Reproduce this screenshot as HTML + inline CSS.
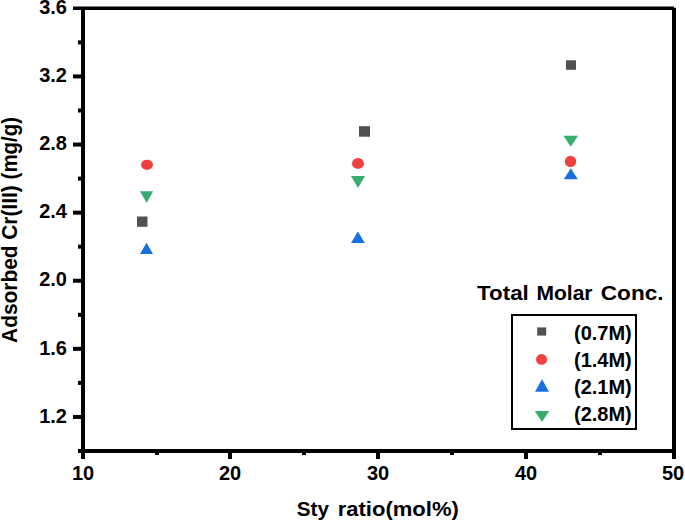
<!DOCTYPE html>
<html><head><meta charset="utf-8"><style>
html,body{margin:0;padding:0;background:#fff;}
svg{display:block;}
text{font-family:"Liberation Sans",sans-serif;font-weight:bold;font-size:20px;fill:#000;}
</style></head><body>
<svg width="685" height="521" viewBox="0 0 685 521">
<rect x="73" y="6.5" width="601" height="3.5" fill="#000"/>
<rect x="81" y="10" width="4" height="449" fill="#000"/>
<rect x="674" y="7.75" width="2" height="2.25" fill="#000"/>
<rect x="672" y="10" width="4" height="449" fill="#000"/>
<rect x="78" y="449" width="598" height="4" fill="#000"/>
<rect x="73" y="74.45" width="9" height="4" fill="#000"/>
<rect x="73" y="142.55" width="9" height="4" fill="#000"/>
<rect x="73" y="210.65" width="9" height="4" fill="#000"/>
<rect x="73" y="278.75" width="9" height="4" fill="#000"/>
<rect x="73" y="346.85" width="9" height="4" fill="#000"/>
<rect x="73" y="414.95" width="9" height="4" fill="#000"/>
<rect x="78" y="40.40" width="4" height="4" fill="#000"/>
<rect x="78" y="108.50" width="4" height="4" fill="#000"/>
<rect x="78" y="176.60" width="4" height="4" fill="#000"/>
<rect x="78" y="244.70" width="4" height="4" fill="#000"/>
<rect x="78" y="312.80" width="4" height="4" fill="#000"/>
<rect x="78" y="380.90" width="4" height="4" fill="#000"/>
<rect x="228" y="452" width="4" height="7" fill="#000"/>
<rect x="376" y="452" width="4" height="7" fill="#000"/>
<rect x="524" y="452" width="4" height="7" fill="#000"/>
<rect x="155" y="452" width="4" height="3" fill="#000"/>
<rect x="302" y="452" width="4" height="3" fill="#000"/>
<rect x="450" y="452" width="4" height="3" fill="#000"/>
<rect x="598" y="452" width="4" height="3" fill="#000"/>
<text x="67" y="14.05" text-anchor="end">3.6</text>
<text x="67" y="82.15" text-anchor="end">3.2</text>
<text x="67" y="150.25" text-anchor="end">2.8</text>
<text x="67" y="218.35" text-anchor="end">2.4</text>
<text x="67" y="286.45" text-anchor="end">2.0</text>
<text x="67" y="354.55" text-anchor="end">1.6</text>
<text x="67" y="422.65" text-anchor="end">1.2</text>
<text x="83" y="480" text-anchor="middle">10</text>
<text x="230" y="480" text-anchor="middle">20</text>
<text x="378" y="480" text-anchor="middle">30</text>
<text x="526" y="480" text-anchor="middle">40</text>
<text x="673" y="480" text-anchor="middle">50</text>
<text transform="translate(296.77,516) scale(1.033,1)">Sty</text>
<text transform="translate(337.7,516) scale(1.102,1)">ratio(mol%)</text>
<text transform="translate(16.8,342.95) rotate(-90) scale(1.045,1.105)">Adsorbed</text>
<text transform="translate(16.8,239.85) rotate(-90) scale(1.046,1.105)">Cr(III)</text>
<text transform="translate(16.8,179.4) rotate(-90) scale(1.024,1.105)">(mg/g)</text>
<text transform="translate(477.1,299.8) scale(1.118,1)">Total</text>
<text transform="translate(536.45,299.8) scale(1.052,1)">Molar</text>
<text transform="translate(600.77,299.8) scale(1.13,1)">Conc.</text>
<rect x="512" y="315" width="124" height="114" fill="none" stroke="#000" stroke-width="2"/>
<text x="574" y="339.6">(0.7M)</text>
<text x="574" y="367">(1.4M)</text>
<text x="574" y="393.9">(2.1M)</text>
<text x="574" y="420.8">(2.8M)</text>
<rect x="137" y="216.5" width="10.50" height="10.30" fill="#515151"/>
<ellipse cx="147.00" cy="164.85" rx="6.00" ry="5.05" fill="#F14040"/>
<polygon points="140,191.2 153.2,191.2 146.60,203" fill="#37AD6B"/>
<polygon points="146.50,242.7 153,253.9 140,253.9" fill="#1A6FDF"/>
<rect x="359" y="126.2" width="11.00" height="10.50" fill="#515151"/>
<ellipse cx="358.00" cy="163.40" rx="6.00" ry="5.40" fill="#F14040"/>
<polygon points="351,176.1 365,176.1 358.00,188" fill="#37AD6B"/>
<polygon points="357.90,231.5 364.8,242.9 351,242.9" fill="#1A6FDF"/>
<rect x="566" y="60.3" width="10.00" height="9.50" fill="#515151"/>
<ellipse cx="570.50" cy="161.45" rx="5.70" ry="5.65" fill="#F14040"/>
<polygon points="563.5,135.8 578,135.8 570.75,146.8" fill="#37AD6B"/>
<polygon points="570.80,168.2 577.8,179.3 563.8,179.3" fill="#1A6FDF"/>
<rect x="537.2" y="327.4" width="9.00" height="8.20" fill="#515151"/>
<ellipse cx="541.55" cy="359.40" rx="5.55" ry="5.30" fill="#F14040"/>
<polygon points="542.00,379.2 549,391.7 535,391.7" fill="#1A6FDF"/>
<polygon points="534.8,410.9 549.2,410.9 542.00,422" fill="#37AD6B"/>
</svg>
</body></html>
